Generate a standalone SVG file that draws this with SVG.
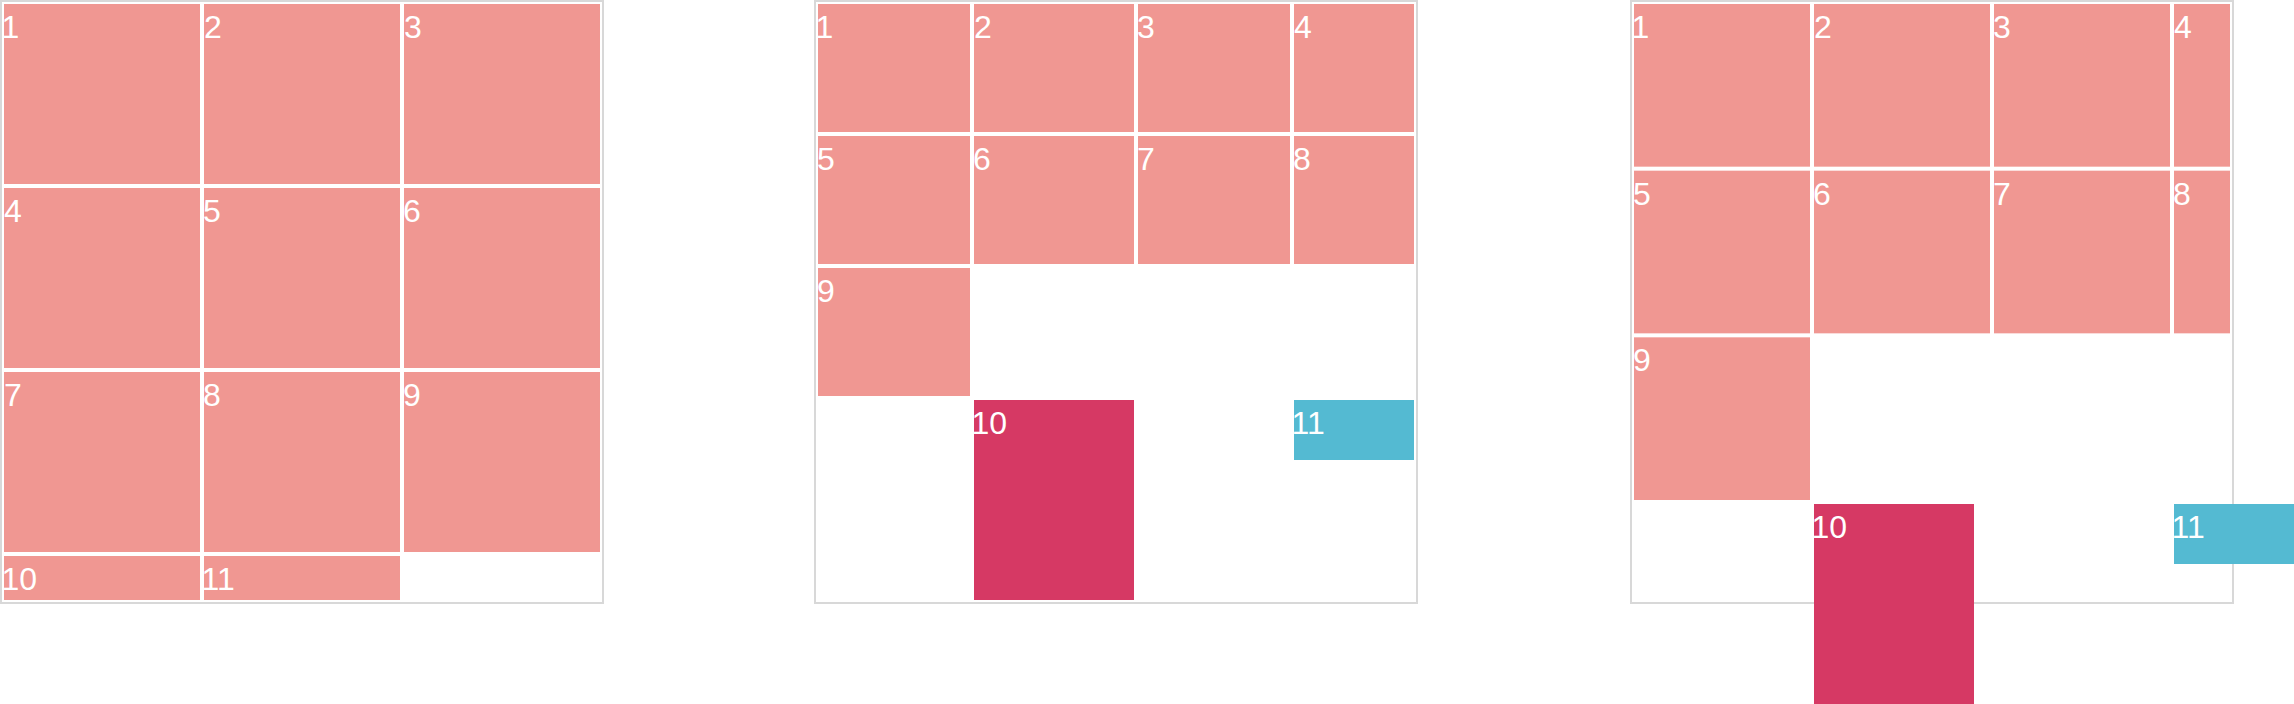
<svg xmlns="http://www.w3.org/2000/svg" width="2294" height="704" viewBox="0 0 2294 704">
<style>
.box{fill:#ffffff;stroke:#d8d8d8;stroke-width:2}
.c{fill:#f09792}
.r{fill:#d63964}
.b{fill:#54bad2}
text{font-family:"Liberation Sans",Arial,sans-serif;font-size:32px;fill:#ffffff}
</style>
<rect width="2294" height="704" fill="#ffffff"/>
<g id="grid1">
<rect class="box" x="1" y="1" width="602" height="602"/>
<g id="g1-1"><rect class="c" x="4" y="4" width="196" height="180"/><text x="1.5" y="38">1</text></g>
<g id="g1-2"><rect class="c" x="204" y="4" width="196" height="180"/><text x="204" y="38">2</text></g>
<g id="g1-3"><rect class="c" x="404" y="4" width="196" height="180"/><text x="404" y="38">3</text></g>
<g id="g1-4"><rect class="c" x="4" y="188" width="196" height="180"/><text x="4" y="222">4</text></g>
<g id="g1-5"><rect class="c" x="204" y="188" width="196" height="180"/><text x="203" y="222">5</text></g>
<g id="g1-6"><rect class="c" x="404" y="188" width="196" height="180"/><text x="403" y="222">6</text></g>
<g id="g1-7"><rect class="c" x="4" y="372" width="196" height="180"/><text x="4" y="406">7</text></g>
<g id="g1-8"><rect class="c" x="204" y="372" width="196" height="180"/><text x="203" y="406">8</text></g>
<g id="g1-9"><rect class="c" x="404" y="372" width="196" height="180"/><text x="403" y="406">9</text></g>
<g id="g1-10"><rect class="c" x="4" y="556" width="196" height="44"/><text x="1.5" y="590">10</text></g>
<g id="g1-11"><rect class="c" x="204" y="556" width="196" height="44"/><text x="201.5" y="590">11</text></g>
</g>
<g id="grid2">
<rect class="box" x="815" y="1" width="602" height="602"/>
<g id="g2-1"><rect class="c" x="818" y="4" width="152" height="128"/><text x="815.5" y="38">1</text></g>
<g id="g2-2"><rect class="c" x="974" y="4" width="160" height="128"/><text x="974" y="38">2</text></g>
<g id="g2-3"><rect class="c" x="1138" y="4" width="152" height="128"/><text x="1137" y="38">3</text></g>
<g id="g2-4"><rect class="c" x="1294" y="4" width="120" height="128"/><text x="1294" y="38">4</text></g>
<g id="g2-5"><rect class="c" x="818" y="136" width="152" height="128"/><text x="817" y="170">5</text></g>
<g id="g2-6"><rect class="c" x="974" y="136" width="160" height="128"/><text x="973" y="170">6</text></g>
<g id="g2-7"><rect class="c" x="1138" y="136" width="152" height="128"/><text x="1137" y="170">7</text></g>
<g id="g2-8"><rect class="c" x="1294" y="136" width="120" height="128"/><text x="1293" y="170">8</text></g>
<g id="g2-9"><rect class="c" x="818" y="268" width="152" height="128"/><text x="817" y="302">9</text></g>
<g id="g2-10"><rect class="r" x="974" y="400" width="160" height="200"/><text x="971.5" y="434">10</text></g>
<g id="g2-11"><rect class="b" x="1294" y="400" width="120" height="60"/><text x="1291.5" y="434">11</text></g>
</g>
<g id="grid3">
<rect class="box" x="1631" y="1" width="602" height="602"/>
<g id="g3-1"><rect class="c" x="1634" y="4" width="176" height="162.67"/><text x="1631.5" y="38">1</text></g>
<g id="g3-2"><rect class="c" x="1814" y="4" width="176" height="162.67"/><text x="1814" y="38">2</text></g>
<g id="g3-3"><rect class="c" x="1994" y="4" width="176" height="162.67"/><text x="1993" y="38">3</text></g>
<g id="g3-4"><rect class="c" x="2174" y="4" width="56" height="162.67"/><text x="2174" y="38">4</text></g>
<g id="g3-5"><rect class="c" x="1634" y="170.67" width="176" height="162.67"/><text x="1633" y="204.67">5</text></g>
<g id="g3-6"><rect class="c" x="1814" y="170.67" width="176" height="162.67"/><text x="1813" y="204.67">6</text></g>
<g id="g3-7"><rect class="c" x="1994" y="170.67" width="176" height="162.67"/><text x="1993" y="204.67">7</text></g>
<g id="g3-8"><rect class="c" x="2174" y="170.67" width="56" height="162.67"/><text x="2173" y="204.67">8</text></g>
<g id="g3-9"><rect class="c" x="1634" y="337.33" width="176" height="162.67"/><text x="1633" y="371.33">9</text></g>
<g id="g3-10"><rect class="r" x="1814" y="504" width="160" height="200"/><text x="1811.5" y="538">10</text></g>
<g id="g3-11"><rect class="b" x="2174" y="504" width="120" height="60"/><text x="2171.5" y="538">11</text></g>
</g>
<g id="connectors"/>
</svg>
